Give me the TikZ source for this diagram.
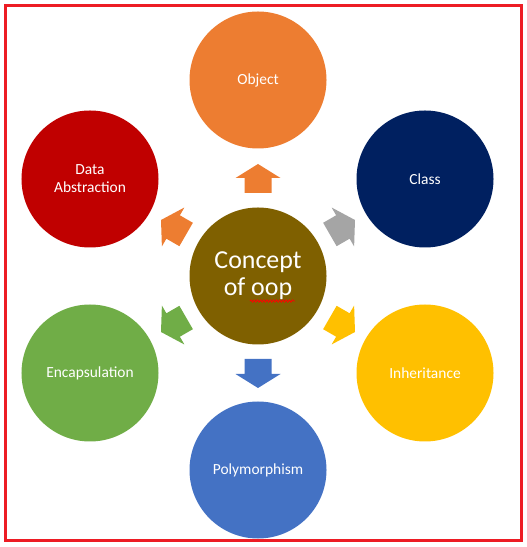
\documentclass[tikz,border=0pt]{standalone}
\usepackage{fontspec}
\setmainfont{Carlito}
\usetikzlibrary{positioning,decorations.pathmorphing}
\definecolor{oopFrame}{HTML}{ED1C24}
\definecolor{oopCore}{HTML}{7F6000}
\definecolor{oopObject}{HTML}{ED7D31}
\definecolor{oopClass}{HTML}{002060}
\definecolor{oopInherit}{HTML}{FFC000}
\definecolor{oopPoly}{HTML}{4472C4}
\definecolor{oopEncap}{HTML}{70AD47}
\definecolor{oopAbstr}{HTML}{C00000}
\definecolor{oopGrey}{HTML}{A5A5A5}

\begin{document}
\begin{tikzpicture}[x=1bp,y=1bp,
  bubble/.style={circle, minimum size=137bp, inner sep=0pt, text=white,
                 align=center, font=\fontsize{15.5}{18}\selectfont}]

%% frame ===============================================================

\useasboundingbox (0,0) rectangle (527,547);
\draw[oopFrame, line width=3bp] (5.5,6.5) rectangle (521.5,541.5);

\def\xO{258}
\def\yO{271}
\def\ringX{167}
\def\ringY{97}

% --- CENTRE ---
\node[bubble, fill=oopCore, font=\fontsize{26}{27}\selectfont]
  (core) at (\xO,\yO) {Concept\\of oop};

% spell-check squiggle under "oop"
\coordinate (wavyL) at ([shift={(-8,-25)}]core.center);
\coordinate (wavyR) at ([shift={(37,-25)}]core.center);
\draw[red, line width=0.8bp,
      decorate, decoration={snake, amplitude=1.1bp, segment length=3.2bp}]
  (wavyL) -- (wavyR);

% --- OUTER RING ---
\node[bubble, fill=oopObject] (object)  at ([shift={(0,196)}]core.center)  {Object};
\node[bubble, fill=oopClass]  (class)   at ([shift={(\ringX,\ringY)}]core.center)  {Class};
\node[bubble, fill=oopInherit](inherit) at ([shift={(\ringX,-\ringY)}]core.center) {Inheritance};
\node[bubble, fill=oopPoly]   (poly)    at ([shift={(0,-194)}]core.center) {Polymorphism};
\node[bubble, fill=oopEncap]  (encap)   at ([shift={(-\ringX-1,-\ringY)}]core.center){Encapsulation};
\node[bubble, fill=oopAbstr]  (abstr)   at ([shift={(-\ringX-1,\ringY)}]core.center) {Data\\Abstraction};

% --- BLOCK ARROWS (pointing out of the centre) ---
\foreach \ang/\col in {90/oopObject, 30/oopGrey, -30/oopInherit,
                       -90/oopPoly, -150/oopEncap, 150/oopObject} {
  \fill[\col, shift={(core.center)}, rotate=\ang]
    (83,-13.5) -- (98,-13.5) -- (98,-22.5) -- (112,0)
    -- (98,22.5) -- (98,13.5) -- (83,13.5) -- cycle;
}

\end{tikzpicture}
\end{document}
